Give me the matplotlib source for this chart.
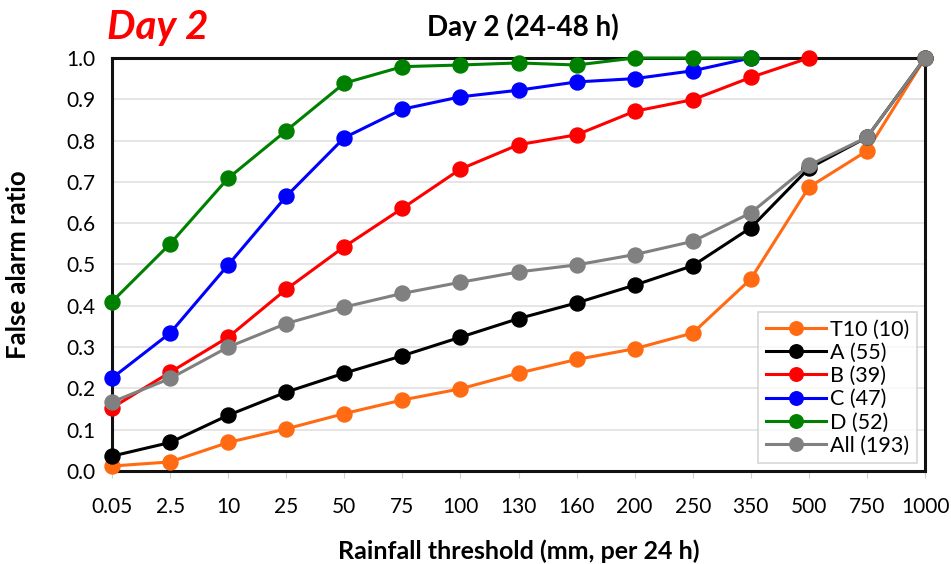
import matplotlib
matplotlib.use("Agg")
import matplotlib.pyplot as plt

thresholds = ["0.05", "2.5", "10", "25", "50", "75", "100", "130", "160",
              "200", "250", "350", "500", "750", "1000"]

t10 = [0.012, 0.022, 0.069, 0.102, 0.139, 0.172, 0.199, 0.237, 0.270,
       0.296, 0.334, 0.465, 0.687, 0.775, 1.0]
a = [0.036, 0.069, 0.135, 0.191, 0.237, 0.279, 0.324, 0.369, 0.407,
     0.450, 0.497, 0.589, 0.733, 0.808, 1.0]
b = [0.153, 0.239, 0.324, 0.440, 0.543, 0.636, 0.731, 0.790, 0.814,
     0.871, 0.899, 0.953, 1.0]
c = [0.225, 0.334, 0.499, 0.665, 0.807, 0.876, 0.906, 0.922, 0.942,
     0.950, 0.969, 1.0]
d = [0.410, 0.550, 0.709, 0.824, 0.939, 0.979, 0.983, 0.988, 0.983,
     1.0, 1.0, 1.0]
all_ = [0.167, 0.224, 0.300, 0.357, 0.397, 0.430, 0.457, 0.482, 0.499,
        0.524, 0.556, 0.625, 0.740, 0.808, 1.0]

series = [
    ("T10 (10)", t10, "#ff6a13"),
    ("A (55)", a, "#000000"),
    ("B (39)", b, "#ff0000"),
    ("C (47)", c, "#0000ff"),
    ("D (52)", d, "#008000"),
    ("All (193)", all_, "#808080"),
]

plt.rcParams["font.family"] = ["Lato", "DejaVu Sans"]

fig = plt.figure(figsize=(9.51, 5.64), dpi=100)
ax = fig.add_axes([0.1178, 0.1649, 0.8549, 0.7323])

for label, vals, col in series:
    ax.plot(range(len(vals)), vals, color=col, lw=2.2, marker="o",
            markersize=10.8, label=label, clip_on=False, zorder=3)

ax.set_xlim(0, len(thresholds) - 1)
ax.set_ylim(0, 1.0)
ax.set_xticks(range(len(thresholds)))
ax.set_xticklabels(thresholds)
ax.set_yticks([i / 10 for i in range(11)])
ax.set_yticklabels([f"{i / 10:.1f}" for i in range(11)])
ax.tick_params(axis="x", length=5, color="#d0d0d0", pad=14, labelsize=15)
ax.tick_params(axis="y", length=0, pad=12, labelsize=15)
ax.grid(axis="y", color="#e0e0e0", lw=1.2, zorder=0)
ax.set_axisbelow(True)
for sp in ax.spines.values():
    sp.set_linewidth(2.2)
    sp.set_color("#111111")

ax.set_xlabel("Rainfall threshold (mm, per 24 h)", fontsize=18,
              fontweight="bold", labelpad=16)
ax.set_ylabel("False alarm ratio", fontsize=18.5, fontweight="bold", labelpad=26)
ax.set_title("Day 2 (24-48 h)", fontsize=20, fontweight="bold", pad=16,
             x=0.505)
fig.text(0.112, 0.952, "Day 2", color="#ff0000", fontsize=29,
         fontweight="bold", fontstyle="italic", va="center", ha="left")

leg = ax.legend(loc="lower right", bbox_to_anchor=(0.990, 0.019),
                borderaxespad=0, fontsize=15.5,
                frameon=True, fancybox=False, edgecolor="#cccccc",
                handlelength=2.8, handletextpad=0.2, labelspacing=0.15,
                borderpad=0.35, markerscale=0.9)
leg.get_frame().set_linewidth(1.2)

fig.savefig("out.png", dpi=100)
